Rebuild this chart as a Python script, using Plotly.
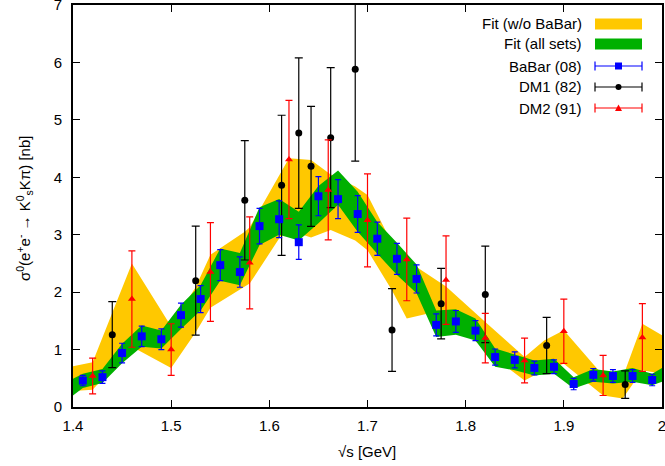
import plotly.graph_objects as go

# ---------------- data ----------------
babar_x = [1.41, 1.43, 1.45, 1.47, 1.49, 1.51, 1.53, 1.55, 1.57, 1.59, 1.61, 1.63, 1.65, 1.67, 1.69,
           1.71, 1.73, 1.75, 1.77, 1.79, 1.81, 1.83, 1.85, 1.87, 1.89, 1.91, 1.93, 1.95, 1.97, 1.99]
babar_y = [0.46, 0.52, 0.94, 1.23, 1.18, 1.60, 1.88, 2.47, 2.35, 3.15, 3.27, 2.87, 3.67, 3.62, 3.36,
           2.93, 2.58, 2.23, 1.43, 1.49, 1.33, 0.87, 0.82, 0.68, 0.70, 0.40, 0.56, 0.54, 0.54, 0.47]
babar_e = [0.09, 0.11, 0.17, 0.18, 0.18, 0.21, 0.235, 0.27, 0.265, 0.31, 0.32, 0.30, 0.34, 0.34, 0.32,
           0.29, 0.27, 0.245, 0.19, 0.19, 0.175, 0.14, 0.14, 0.12, 0.12, 0.10, 0.11, 0.11, 0.11, 0.10]

dm1_x = [1.44, 1.525, 1.575, 1.6125, 1.63, 1.6425, 1.6625, 1.6875, 1.725, 1.775, 1.82, 1.8825, 1.9625]
dm1_y = [1.26, 2.20, 3.60, 3.86, 4.77, 4.19, 4.69, 5.88, 1.34, 1.80, 1.96, 1.07, 0.39]
dm1_e = [0.575, 0.95, 1.04, 1.22, 1.31, 1.045, 1.22, 1.6, 0.72, 0.615, 0.84, 0.49, 0.24]

dm2_x = [1.42, 1.46, 1.50, 1.54, 1.58, 1.62, 1.66, 1.70, 1.74, 1.78, 1.82, 1.86, 1.90, 1.94, 1.98]
dm2_y = [0.54, 1.88, 1.00, 2.35, 2.51, 4.31, 3.78, 3.25, 2.57, 2.21, 1.20, 0.81, 1.32, 0.55, 1.21]
dm2_e = [0.31, 0.84, 0.45, 0.86, 0.80, 1.03, 0.87, 0.81, 0.72, 0.77, 0.43, 0.39, 0.56, 0.35, 0.59]

# fit band without BaBar (yellow)
fitA_x  = [1.40, 1.42, 1.44, 1.46, 1.50, 1.525, 1.54, 1.575, 1.58, 1.6125, 1.62, 1.63, 1.6425, 1.6625,
           1.6875, 1.70, 1.725, 1.74, 1.775, 1.78, 1.82, 1.86, 1.88, 1.90, 1.94, 1.96, 1.98, 2.00]
fitA_lo = [0.28, 0.30, 0.68, 1.05, 0.68, 1.30, 1.73, 2.10, 2.15, 3.00, 3.10, 3.02, 2.95, 3.08,
           2.90, 2.73, 2.03, 1.54, 1.68, 1.65, 0.98, 0.46, 0.64, 0.755, 0.20, 0.15, 0.64, 0.58]
fitA_hi = [0.71, 0.78, 1.64, 2.50, 1.40, 2.09, 2.65, 3.05, 3.13, 4.10, 4.33, 4.32, 4.30, 4.05,
           3.84, 3.69, 2.85, 2.55, 2.15, 2.10, 1.48, 0.87, 1.16, 1.335, 0.55, 0.52, 1.45, 1.25]

# fit band with all sets (green)
fitB_x  = [1.40, 1.41, 1.43, 1.45, 1.47, 1.49, 1.51, 1.53, 1.55, 1.57, 1.59, 1.61, 1.63, 1.65, 1.67,
           1.69, 1.71, 1.73, 1.75, 1.77, 1.79, 1.81, 1.83, 1.85, 1.87, 1.89, 1.91, 1.93, 1.95, 1.97, 1.99, 2.00]
fitB_lo = [0.20, 0.33, 0.42, 0.76, 1.05, 1.02, 1.36, 1.68, 2.20, 2.12, 2.82, 3.00, 2.90, 3.20, 3.52,
           3.05, 2.67, 2.30, 1.98, 1.22, 1.26, 1.16, 0.70, 0.64, 0.55, 0.58, 0.32, 0.44, 0.41, 0.44, 0.38, 0.44]
fitB_hi = [0.49, 0.58, 0.66, 1.10, 1.42, 1.33, 1.78, 2.12, 2.76, 2.68, 3.48, 3.62, 3.40, 3.85, 4.12,
           3.75, 3.22, 2.86, 2.48, 1.68, 1.70, 1.54, 1.02, 0.92, 0.81, 0.84, 0.52, 0.66, 0.62, 0.68, 0.58, 0.68]

legend_labels = ["Fit (w/o BaBar)", "Fit (all sets)", "BaBar (08)", "DM1 (82)", "DM2 (91)"]
x_title = "√s [GeV]"
y_title = "σ<sup>0</sup>(e<sup>+</sup>e<sup>-</sup> → K<sup>0</sup><sub>s</sub>Kπ) [nb]"

YELLOW = "#FFC800"
GREEN = "#00B000"
BLUE = "#0000FF"
BLACK = "#000000"
RED = "#FF0000"
FONT = "Liberation Sans, Arial, Helvetica, sans-serif"

fig = go.Figure()

def band(xs, lo, hi, color):
    return go.Scatter(x=list(xs) + list(xs[::-1]), y=list(hi) + list(lo[::-1]),
                      fill="toself", fillcolor=color, mode="lines",
                      line=dict(width=0, color=color), hoverinfo="skip", showlegend=False)

fig.add_trace(band(fitA_x, fitA_lo, fitA_hi, YELLOW))
fig.add_trace(band(fitB_x, fitB_lo, fitB_hi, GREEN))

def pts(xs, ys, es, color, symbol, size, capw):
    return go.Scatter(x=xs, y=ys, mode="markers",
                      marker=dict(color=color, symbol=symbol, size=size, line=dict(width=0)),
                      error_y=dict(type="data", array=es, visible=True, color=color,
                                   thickness=1.2, width=capw),
                      showlegend=False)

fig.add_trace(pts(dm1_x, dm1_y, dm1_e, BLACK, "circle", 7, 4))
fig.add_trace(pts(dm2_x, dm2_y, dm2_e, RED, "triangle-up", 7, 3.5))
fig.add_trace(pts(babar_x, babar_y, babar_e, BLUE, "square", 8, 3))

# ---- layout geometry in pixels ----
L, R, T, B = 73, 3, 5, 59
W, H = 665, 466
pw, ph = W - L - R, H - T - B
def px2paper(px, py):
    return (px - L) / pw, (H - B - py) / ph

# axis titles as annotations
tx, ty = px2paper(367, 441)
fig.add_annotation(x=tx, y=ty, xref="paper", yref="paper", text=x_title, showarrow=False,
                   xanchor="center", yanchor="top", font=dict(size=15, color="black", family=FONT))
tx, ty = px2paper(24, 209)
fig.add_annotation(x=tx, y=ty, xref="paper", yref="paper", text=y_title, showarrow=False,
                   textangle=-90, xanchor="center", yanchor="middle",
                   font=dict(size=15, color="black", family=FONT))

# ---- custom legend (text right-aligned, sample on the right) ----
rows_py = [24, 44, 66, 87, 108]
text_right_px = 584
s_left, s_right = 595, 642
for i, lab in enumerate(legend_labels):
    tx, ty = px2paper(text_right_px, rows_py[i])
    fig.add_annotation(x=tx, y=ty, xref="paper", yref="paper", text=lab, showarrow=False,
                       xanchor="right", yanchor="middle", font=dict(size=15, color="black", family=FONT))

for i, col in enumerate([YELLOW, GREEN]):
    x0, y0 = px2paper(s_left, rows_py[i] + 5.5)
    x1, y1 = px2paper(s_right, rows_py[i] - 5.5)
    fig.add_shape(type="rect", xref="paper", yref="paper", x0=x0, y0=y0, x1=x1, y1=y1,
                  fillcolor=col, line=dict(width=0))

for i, col in zip([2, 3, 4], [BLUE, BLACK, RED]):
    py = rows_py[i]
    x0, y0 = px2paper(s_left, py)
    x1, _ = px2paper(s_right, py)
    fig.add_shape(type="line", xref="paper", yref="paper", x0=x0, y0=y0, x1=x1, y1=y0,
                  line=dict(color=col, width=1.2))
    for sx in (s_left, s_right):
        cx, cy0 = px2paper(sx, py - 4.5)
        _, cy1 = px2paper(sx, py + 4.5)
        fig.add_shape(type="line", xref="paper", yref="paper", x0=cx, y0=cy0, x1=cx, y1=cy1,
                      line=dict(color=col, width=1.2))

mx = (s_left + s_right) / 2
a0, b0 = px2paper(mx - 3.5, rows_py[2] + 3.5)
a1, b1 = px2paper(mx + 3.5, rows_py[2] - 3.5)
fig.add_shape(type="rect", xref="paper", yref="paper", x0=a0, y0=b0, x1=a1, y1=b1,
              fillcolor=BLUE, line=dict(width=0))
a0, b0 = px2paper(mx - 3, rows_py[3] + 3)
a1, b1 = px2paper(mx + 3, rows_py[3] - 3)
fig.add_shape(type="circle", xref="paper", yref="paper", x0=a0, y0=b0, x1=a1, y1=b1,
              fillcolor=BLACK, line=dict(width=0))
p1 = px2paper(mx - 3.5, rows_py[4] + 3)
p2 = px2paper(mx + 3.5, rows_py[4] + 3)
p3 = px2paper(mx, rows_py[4] - 3.5)
fig.add_shape(type="path", xref="paper", yref="paper",
              path=f"M {p1[0]},{p1[1]} L {p2[0]},{p2[1]} L {p3[0]},{p3[1]} Z",
              fillcolor=RED, line=dict(width=0))

axis_common = dict(showline=True, linecolor="black", linewidth=1.6, mirror="ticks",
                   ticks="inside", ticklen=7, tickwidth=1, tickcolor="black",
                   showgrid=False, zeroline=False, ticklabeloverflow="allow",
                   tickfont=dict(size=15, color="black", family=FONT))

fig.update_xaxes(range=[1.4, 2.0], dtick=0.1, tick0=1.4, ticklabelstandoff=4, **axis_common)
fig.update_yaxes(range=[0, 7], dtick=1, tick0=0, ticklabelstandoff=6, **axis_common)

fig.update_layout(width=W, height=H, margin=dict(l=L, r=R, t=T, b=B, autoexpand=False),
                  plot_bgcolor="white", paper_bgcolor="white", showlegend=False,
                  font=dict(family=FONT, size=15, color="black"))

fig.write_html("out.html", config={"displayModeBar": False},
               post_script="document.body.style.margin='0';document.body.style.overflow='hidden';")
